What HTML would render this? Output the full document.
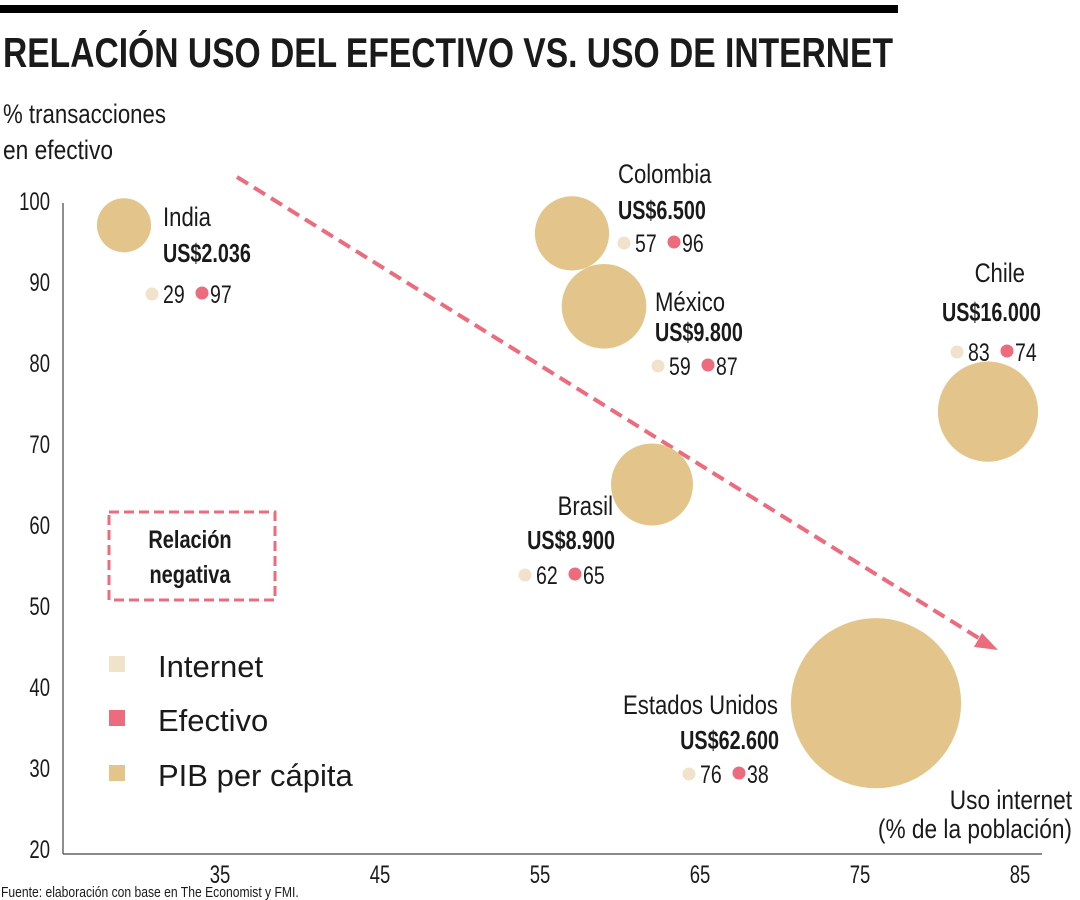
<!DOCTYPE html>
<html><head><meta charset="utf-8"><style>
html,body{margin:0;padding:0;background:#fff}
svg{display:block}
text{font-family:"Liberation Sans",sans-serif;fill:#1a1a1a}
</style></head><body>
<svg id="chart" width="1080" height="900" viewBox="0 0 1080 900" xmlns="http://www.w3.org/2000/svg">
<rect x="0" y="5" width="898" height="8" fill="#000"/>
<text data-sx="1" x="3" y="67" font-size="42" font-weight="bold" textLength="890" lengthAdjust="spacingAndGlyphs">RELACIÓN USO DEL EFECTIVO VS. USO DE INTERNET</text>
<text data-sx="1" x="3" y="123" font-size="27" textLength="163" lengthAdjust="spacingAndGlyphs">% transacciones</text>
<text data-sx="1" x="3" y="159" font-size="27" textLength="110" lengthAdjust="spacingAndGlyphs">en efectivo</text>
<line x1="63" y1="203" x2="63" y2="854" stroke="#444" stroke-width="1.2"/>
<line x1="63" y1="854" x2="1042" y2="854" stroke="#444" stroke-width="1.2"/>
<g id="yticks"></g><g id="xticks"></g>
<line x1="237" y1="177" x2="985" y2="642" stroke="#ec6b7d" stroke-width="4" stroke-dasharray="13,7"/>
<polygon points="998,650 982,633 974,647" fill="#ec6b7d"/>
<rect x="109" y="512" width="166" height="88" fill="none" stroke="#ec6b7d" stroke-width="3" stroke-dasharray="10,5"/>
<text data-sx="0.8" x="190" y="548" font-size="25" font-weight="bold" text-anchor="middle">Relación</text>
<text data-sx="0.8" x="190" y="583" font-size="25" font-weight="bold" text-anchor="middle">negativa</text>
<g id="bubbles"></g>
<rect x="109" y="656" width="16" height="16" fill="#f1e3cb"/>
<text data-sx="1" x="158" y="677" font-size="31">Internet</text>
<rect x="109" y="710" width="16" height="16" fill="#ec6b7d"/>
<text data-sx="1" x="158" y="731" font-size="31">Efectivo</text>
<rect x="109" y="765" width="16" height="16" fill="#e3c58b"/>
<text data-sx="1" x="158" y="786" font-size="31">PIB per cápita</text>
<text data-sx="0.84" x="1072" y="809" font-size="27" text-anchor="end">Uso internet</text>
<text data-sx="0.84" x="1072" y="838" font-size="27" text-anchor="end">(% de la población)</text>
<text data-sx="0.81" x="1" y="897" font-size="15">Fuente: elaboración con base en The Economist y FMI.</text>
</svg>
<script>
const countries=["India","Colombia","México","Chile","Brasil","Estados Unidos"];
const internet=[29,57,59,83,62,76];
const cash=[97,96,87,74,65,38];
const gdp=[2036,6500,9800,16000,8900,62600];
const gdpLabels=["US$2.036","US$6.500","US$9.800","US$16.000","US$8.900","US$62.600"];
const xTicks=[35,45,55,65,75,85];
const yTicks=[20,30,40,50,60,70,80,90,100];
// label layout offsets (style only): [nameX,nameY,anchor,valX,valY,dotX,dotY,valAnchor]
const layout=[
 [163,226,"start",163,262,152,294,"start"],
 [618,183,"start",618,219,624,243,"start"],
 [655,311,"start",655,341,658,366,"start"],
 [1025,282,"end",942,321,957,352,"start"],
 [613,515,"end",615,549,525,575,"end"],
 [778,714,"end",779,749,689,774,"end"]];
const NS="http://www.w3.org/2000/svg";
const xS=v=>220+(v-35)*16;
const yS=v=>201+(100-v)*8.1;
const rS=g=>14.3+0.283*Math.sqrt(g);
function mk(tag,attrs,parent,txt){const e=document.createElementNS(NS,tag);for(const k in attrs)e.setAttribute(k,attrs[k]);if(txt!==undefined)e.textContent=txt;parent.appendChild(e);return e;}
const yt=document.getElementById("yticks");
yTicks.forEach(v=>{const t=mk("text",{x:50,y:yS(v)+9,"font-size":25,"text-anchor":"end","data-sx":0.74},yt,v);

});
const xt=document.getElementById("xticks");
xTicks.forEach(v=>{const t=mk("text",{x:xS(v),y:883,"font-size":25,"text-anchor":"middle","data-sx":0.74},xt,v);

});
const bg=document.getElementById("bubbles");
countries.forEach((c,i)=>{
 const L=layout[i];
 const b=mk("circle",{cx:xS(internet[i]),cy:yS(cash[i]),r:rS(gdp[i]),fill:"#e3c58b"},bg);
 
 
 const n=mk("text",{x:L[0],y:L[1],"font-size":27,"text-anchor":L[2]},bg,c);
 
 
 const g=mk("text",{x:L[3],y:L[4],"font-size":26,"font-weight":"bold","text-anchor":L[7],"data-sx":0.76},bg,gdpLabels[i]);
 
 
 const d1=mk("circle",{cx:L[5],cy:L[6],r:6.5,fill:"#f1e3cb"},bg);
 
 
 const t1=mk("text",{x:L[5]+11,y:L[6]+9,"font-size":25,"data-sx":0.78},bg,internet[i]);
 
 
 const d2=mk("circle",{cx:L[5]+50,cy:L[6]-1,r:6.5,fill:"#ec6b7d"},bg);
 
 
 const t2=mk("text",{x:L[5]+58,y:L[6]+9,"font-size":25,"data-sx":0.78},bg,cash[i]);
 
 
});
document.querySelectorAll("#chart text").forEach(t=>{
 const s=parseFloat(t.getAttribute("data-sx")||"0.82");
 if(s===1)return;
 const x=parseFloat(t.getAttribute("x"));
 t.setAttribute("transform",`translate(${x},0) scale(${s},1) translate(${-x},0)`);
});
</script>
</body></html>
